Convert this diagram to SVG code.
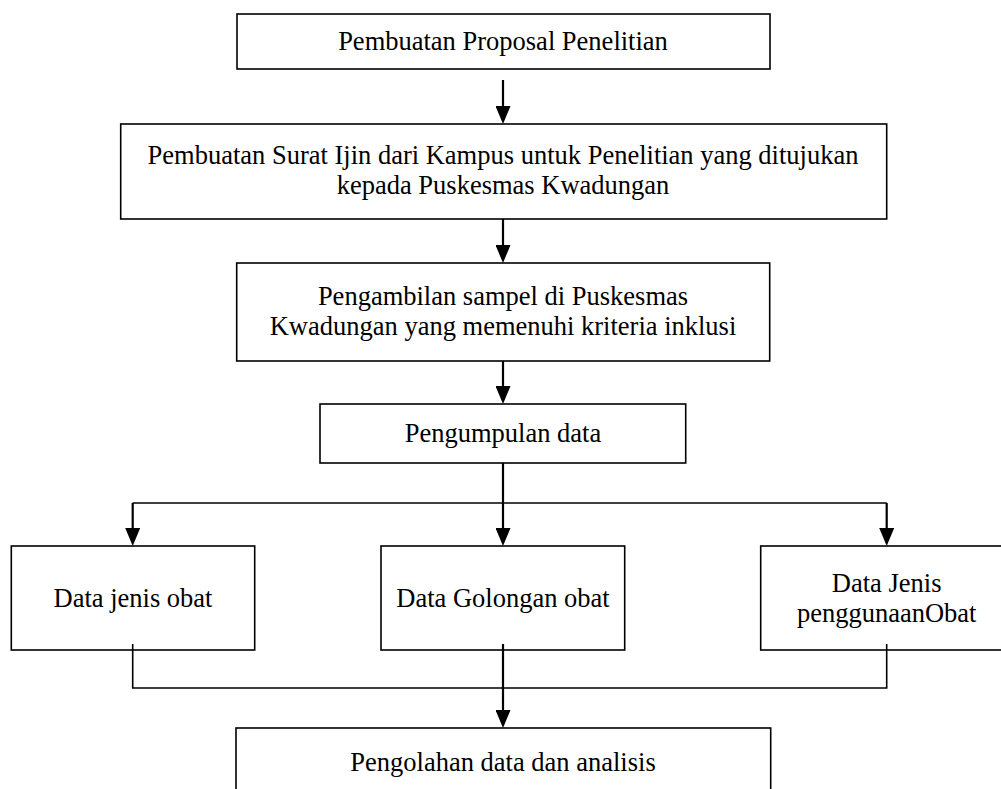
<svg xmlns="http://www.w3.org/2000/svg" width="1001" height="789" viewBox="0 0 1001 789">
<defs>
<style>
.box{fill:#fff;stroke:#000;stroke-width:1.6}
.t{font-family:"Liberation Serif","Times New Roman",serif;font-size:26.5px;fill:#000;text-anchor:middle}
.ln{fill:none;stroke:#000;stroke-width:1.6}
.ar{fill:none;stroke:#000;stroke-width:2.2}
</style>
<marker id="ah" markerUnits="userSpaceOnUse" viewBox="0 0 18 15" markerWidth="18" markerHeight="15" refX="2" refY="7.5" orient="auto">
<path d="M0,0 L18,7.5 L0,15 z" fill="#000"/>
</marker>
</defs>
<rect width="1001" height="789" fill="#fff"/>
<g id="n1">
<rect class="box" x="237" y="14" width="533" height="55"/>
<text class="t" x="503" y="50">Pembuatan Proposal Penelitian</text>
</g>
<g id="n2">
<rect class="box" x="120.7" y="124" width="766" height="95"/>
<text class="t" x="503" y="164">Pembuatan Surat Ijin dari Kampus untuk Penelitian yang ditujukan</text>
<text class="t" x="503" y="194">kepada Puskesmas Kwadungan</text>
</g>
<g id="n3">
<rect class="box" x="236.7" y="263" width="533" height="98"/>
<text class="t" x="503" y="305">Pengambilan sampel di Puskesmas</text>
<text class="t" x="503" y="335">Kwadungan yang memenuhi kriteria inklusi</text>
</g>
<g id="n4">
<rect class="box" x="320" y="404" width="365.7" height="59"/>
<text class="t" x="503" y="442">Pengumpulan data</text>
</g>
<g id="n5">
<rect class="box" x="11.3" y="546" width="243.4" height="104"/>
<text class="t" x="133" y="607">Data jenis obat</text>
</g>
<g id="n6">
<rect class="box" x="381" y="546" width="243.7" height="104"/>
<text class="t" x="503" y="607">Data Golongan obat</text>
</g>
<g id="n7">
<rect class="box" x="760.7" y="546" width="252" height="104"/>
<text class="t" x="886.7" y="592">Data Jenis</text>
<text class="t" x="886.7" y="622">penggunaanObat</text>
</g>
<g id="n8">
<rect class="box" x="236" y="728" width="534.7" height="80"/>
<text class="t" x="503" y="771">Pengolahan data dan analisis</text>
</g>
<g id="connectors">
<path class="ar" d="M503,80 V108" marker-end="url(#ah)"/>
<path class="ar" d="M503,219 V247" marker-end="url(#ah)"/>
<path class="ar" d="M503,361 V388" marker-end="url(#ah)"/>
<path class="ar" d="M503,463 V530" marker-end="url(#ah)"/>
<path class="ln" d="M132.7,503 H886.7"/>
<path class="ar" d="M132.7,503 V530" marker-end="url(#ah)"/>
<path class="ar" d="M886.7,503 V530" marker-end="url(#ah)"/>
<path class="ln" d="M132.7,644 V688 H886.7 V644"/>
<path class="ar" d="M503,644 V712" marker-end="url(#ah)"/>
</g>
</svg>
